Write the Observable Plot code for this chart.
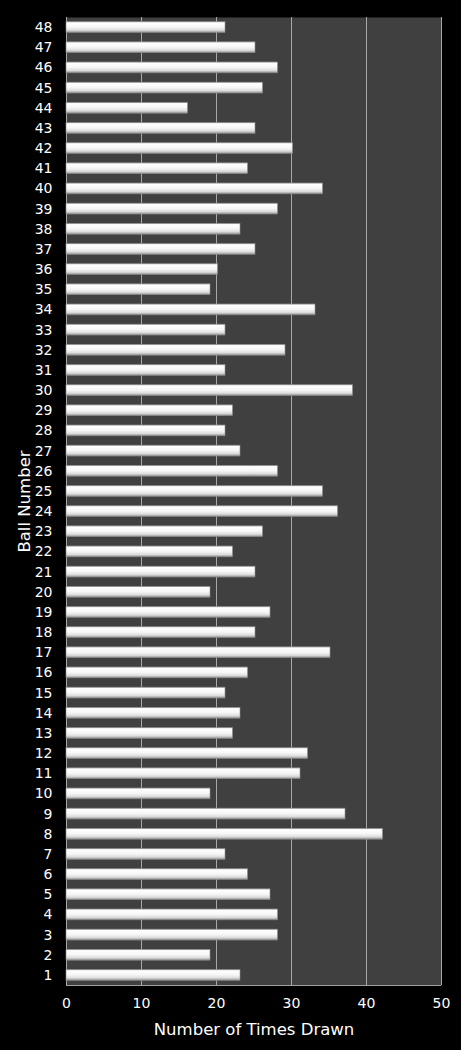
<!DOCTYPE html>
<html>
<head>
<meta charset="utf-8">
<script src="https://cdn.jsdelivr.net/npm/d3@7"></script>
<script src="https://cdn.jsdelivr.net/npm/@observablehq/plot@0.6"></script>
<style>
  html, body { margin: 0; padding: 0; background: #000; }
  #chart svg { display: block; }
</style>
</head>
<body>
<div id="chart"></div>
<script>
const balls = d3.range(1, 49).map(String);
const timesDrawn = [
  23, 19, 28, 28, 27, 24, 21, 42, 37, 19,
  31, 32, 22, 23, 21, 24, 35, 25, 27, 19,
  25, 22, 26, 36, 34, 28, 23, 21, 22, 38,
  21, 29, 21, 33, 19, 20, 25, 23, 28, 34,
  24, 30, 25, 16, 26, 28, 25, 21
];
const xTicks = [0, 10, 20, 30, 40, 50];

const data = balls.map((b, i) => ({ball: b, count: timesDrawn[i]}));

const defsMark = () => {
  const defs = d3.create("svg:defs");
  const g = defs.append("linearGradient")
    .attr("id", "barGrad").attr("x1", 0).attr("y1", 0).attr("x2", 0).attr("y2", 1);
  [["0%", "#c0c0c0"], ["12%", "#ffffff"], ["50%", "#f6f6f6"], ["78%", "#dcdcdc"], ["100%", "#8e8e8e"]]
    .forEach(([o, c]) => g.append("stop").attr("offset", o).attr("stop-color", c));
  return defs.node();
};

const bottomLine = (index, scales, values, dims) => {
  const y = dims.height - dims.marginBottom;
  return d3.create("svg:line")
    .attr("x1", dims.marginLeft).attr("x2", dims.width - dims.marginRight)
    .attr("y1", y + 0.5).attr("y2", y + 0.5)
    .attr("stroke", "#a0a0a0").attr("stroke-width", 1).node();
};

const chart = Plot.plot({
  width: 461,
  height: 1050,
  marginTop: 17,
  marginBottom: 65,
  marginLeft: 66,
  marginRight: 20,
  style: {background: "#000", color: "#fff", fontFamily: "'DejaVu Sans', Verdana, sans-serif", fontSize: "14px"},
  x: {domain: [0, 50]},
  y: {domain: balls.slice().reverse(), paddingInner: 0.46, paddingOuter: 0.23, round: false},
  marks: [
    defsMark,
    Plot.frame({fill: "#404040", stroke: null}),
    Plot.gridX(xTicks, {stroke: "#a8a8a8", strokeOpacity: 1, strokeWidth: 1}),
    bottomLine,
    Plot.barX(data, {x: "count", y: "ball", fill: "url(#barGrad)", stroke: "#8c8c8c", strokeWidth: 0.6, insetRight: -1.5}),
    Plot.axisX({
      ticks: xTicks, tickSize: 0, tickPadding: 13, fontSize: 14,
      label: "Number of Times Drawn", labelAnchor: "center", labelOffset: 49, labelArrow: "none"
    }),
    Plot.axisY({
      tickSize: 0, tickPadding: 14, fontSize: 14,
      label: "Ball Number", labelAnchor: "center", labelOffset: 48, labelArrow: "none"
    })
  ]
});

chart.querySelectorAll("g[aria-label='x-axis label'] text, g[aria-label='y-axis label'] text").forEach(t => {
  t.setAttribute("font-size", "16.5px");
});

document.getElementById("chart").appendChild(chart);
</script>
</body>
</html>
